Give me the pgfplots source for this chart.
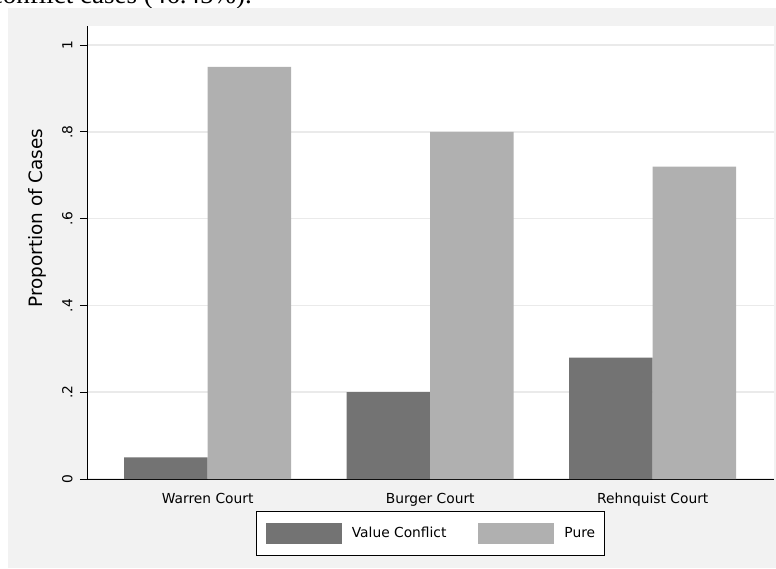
\documentclass[border=0pt]{standalone}
\usepackage{pgfplots}
\pgfplotsset{compat=1.18}
\usepackage{fontspec}
\setmainfont{DejaVu Sans}
\newfontfamily\seriffont{Liberation Serif}
\definecolor{bgc}{RGB}{242,242,242}
\definecolor{darkbar}{RGB}{115,115,115}
\definecolor{lightbar}{RGB}{176,176,176}
\definecolor{gridc}{RGB}{234,234,234}
\begin{document}
\begin{tikzpicture}[x=1pt,y=1pt]
\useasboundingbox (0,0) rectangle (776,568);
\node[anchor=base east, font=\seriffont\fontsize{27}{30}\selectfont, inner sep=0pt] at (252,564) {conflict cases (46.45\%).};
\fill[bgc] (8,0) rectangle (776,560);
\begin{axis}[
  at={(87pt,89pt)}, anchor=south west,
  scale only axis, width=687pt, height=453pt,
  xmin=-0.5425, xmax=2.545, ymin=0, ymax=1.044,
  axis x line=bottom, axis y line=left,
  axis line style={black, line width=0.9pt, -},
  axis background/.style={fill=white},
  ybar=0pt, bar width=83.5pt,
  xtick={0,1,2}, xticklabels={Warren Court, Burger Court, Rehnquist Court},
  ytick={0,0.2,0.4,0.6,0.8,1}, yticklabels={0,.2,.4,.6,.8,1},
  ymajorgrids, grid style={gridc, line width=1.5pt},
  tick align=outside, major tick length=7pt,
  xtick style={draw=none}, ytick style={black, line width=0.8pt},
  tick label style={font=\fontsize{13.8}{16}\selectfont},
  xticklabel style={anchor=north, inner sep=0pt},
  xticklabel shift=7pt,
  yticklabel style={rotate=90, anchor=south, inner sep=0pt},
  yticklabel shift=7.3pt,
  ylabel={Proportion of Cases},
  ylabel style={at={(axis description cs:-0.0716,0.576)}, anchor=center, inner sep=0pt, font=\fontsize{18.4}{20}\selectfont},
  legend columns=2,
  legend style={at={(axis description cs:0.5,-0.1192)}, anchor=center, draw=black, line width=0.8pt, fill=white,
    inner xsep=9pt, inner ysep=11.5pt,
    nodes={inner sep=0pt, font=\fontsize{13.8}{16}\selectfont},
    /tikz/every odd column/.append style={column sep=10pt},
    /tikz/every even column/.append style={column sep=32pt}},
  legend image code/.code={\fill[#1] (0pt,-10pt) rectangle (76pt,11pt);},
]
\addplot[fill=darkbar, draw=none] coordinates {(0,0.05) (1,0.20) (2,0.28)};
\addlegendentry{Value Conflict}
\addplot[fill=lightbar, draw=none] coordinates {(0,0.95) (1,0.80) (2,0.72)};
\addlegendentry{Pure}
\end{axis}
\end{tikzpicture}
\end{document}
